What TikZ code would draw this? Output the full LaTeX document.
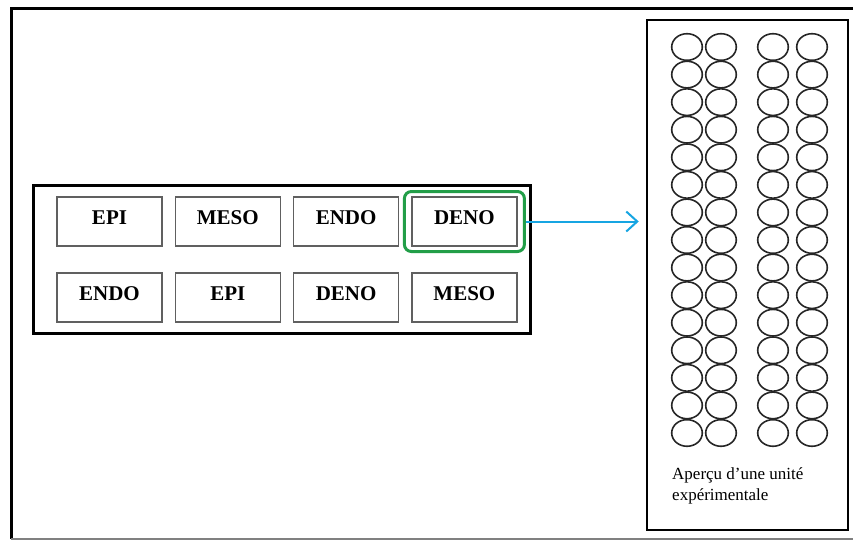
\documentclass[tikz,border=0pt]{standalone}
\usepackage{fontspec}
\setmainfont{Liberation Serif}
\usetikzlibrary{arrows.meta}
\definecolor{selgreen}{RGB}{34,158,72}
\definecolor{flowblue}{RGB}{22,165,226}
\tikzset{
  frame/.style={draw=black,line width=3pt},
  plotbox/.style={draw=gray!75!black,line width=1.3pt,minimum width=105pt,minimum height=49pt,inner sep=0pt,
    font=\bfseries\fontsize{21}{24}\selectfont,text height=14pt,text depth=8pt},
  seed/.style={draw=black!85,line width=1.6pt},
}
\begin{document}
\begin{tikzpicture}[x=1pt,y=-1pt]
\useasboundingbox (0,0) rectangle (853,541);
% cadre
\draw[frame] (853,8) -- (11,8) -- (11,539);
\draw[gray,line width=1.5pt] (11,539) -- (853,539);
% dispositif
\node[frame,minimum width=497pt,minimum height=148pt] (bloc) at (281.5,259) {};
\foreach \lab [count=\i] in {EPI,MESO,ENDO,DENO}{
  \node[plotbox] (a\i) at ({109.5+(\i-1)*118.3},221.5) {\lab};
}
\foreach \lab [count=\i] in {ENDO,EPI,DENO,MESO}{
  \node[plotbox] (b\i) at ({109.5+(\i-1)*118.3},297.5) {\lab};
}
\node[draw=selgreen,line width=3pt,rounded corners=7pt,minimum width=120pt,minimum height=60pt] (sel) at (a4) {};
% unite experimentale
\node[frame,line width=2.5pt,minimum width=201pt,minimum height=510pt] (unit) at (747.5,275) {};
\foreach \cx in {687,721,773,812}{
  \foreach \r in {0,...,14}{
    \draw[seed] (\cx,{47+\r*27.57}) ellipse (15.3pt and 13.3pt);
  }
}
\node[anchor=north west,align=left,inner sep=0pt,font=\fontsize{17}{21}\selectfont] (legende) at (672,467)
  {Aperçu d’une unité\\expérimentale};
% fleche
\draw[flowblue,line width=2pt,-{Straight Barb[length=11pt,width=20pt]},shorten >=7pt] (sel.east) -- (sel.east -| unit.west);
\end{tikzpicture}
\end{document}
